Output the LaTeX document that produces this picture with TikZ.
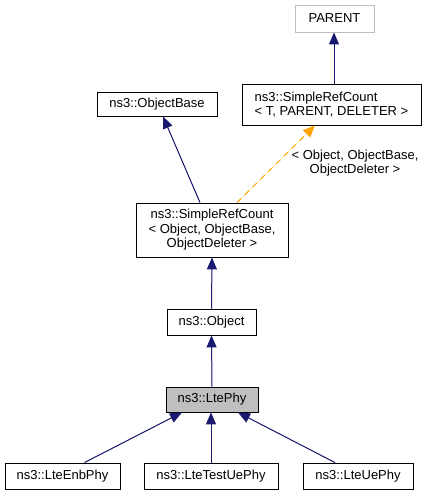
\documentclass[tikz,border=0pt]{standalone}
\usepackage{fontspec}
\setmainfont{Liberation Sans}
\usetikzlibrary{arrows.meta,calc}
\definecolor{navy}{HTML}{191970}
\definecolor{dorange}{HTML}{FFA500}
\definecolor{lgray}{HTML}{BFBFBF}
\begin{document}
\begin{tikzpicture}[x=1pt,y=-1pt,
  font=\fontsize{13}{14.5}\selectfont,
  box/.style={draw=black,line width=0.9pt,fill=white,inner sep=0pt,align=center},
  inh/.style={draw=navy,line width=1pt,-{Triangle[width=10pt,length=12pt]},fill=navy},
  tmpl/.style={draw=dorange,line width=1pt,dash pattern=on 6pt off 5pt,-{Triangle[width=10pt,length=12pt]},fill=dorange}]
\useasboundingbox (0,0) rectangle (433,496);
\node[box,draw=lgray,minimum width=79pt,minimum height=27pt] (parent) at (334.5,18.5) {PARENT};
\node[box,minimum width=179pt,minimum height=41pt,align=left] (srct) at (331.5,104.5) {ns3::SimpleRefCount\\< T, PARENT, DELETER >};
\node[box,minimum width=120pt,minimum height=24pt] (obase) at (157,104) {ns3::ObjectBase};
\node[box,minimum width=152pt,minimum height=54pt] (srco) at (212,230) {ns3::SimpleRefCount\\< Object, ObjectBase,\\ObjectDeleter >};
\node[box,minimum width=89pt,minimum height=26pt] (object) at (211.5,322) {ns3::Object};
\node[box,fill=lgray,minimum width=92pt,minimum height=25pt] (ltephy) at (212,399.5) {ns3::LtePhy};
\node[box,minimum width=115pt,minimum height=26pt] (enb) at (62.5,476) {ns3::LteEnbPhy};
\node[box,minimum width=134pt,minimum height=26pt] (test) at (211,476) {ns3::LteTestUePhy};
\node[box,minimum width=110pt,minimum height=26pt] (ue) at (358,476) {ns3::LteUePhy};
\node[align=center] (lbl) at (355,163) {< Object, ObjectBase,\\ObjectDeleter >};
\draw[inh] ($(srct.north)+(2.5,0)$) -- ($(parent.south)+(-0.5,0)$);
\draw[inh] ($(srco.north)+(-12,0)$) -- ($(obase.south)+(6,0)$);
\draw[tmpl] ($(srco.north)+(25,0)$) -- ($(srct.south)+(-16.5,0)$);
\draw[inh] (object.north) -- (srco.south);
\draw[inh] (ltephy.north) -- (object.south);
\draw[inh] ($(enb.north)+(22,0)$) -- ($(ltephy.south)+(-30,0)$);
\draw[inh] (test.north) -- (test.north |- ltephy.south);
\draw[inh] ($(ue.north)+(-23,0)$) -- ($(ltephy.south)+(26,0)$);
\end{tikzpicture}
\end{document}
